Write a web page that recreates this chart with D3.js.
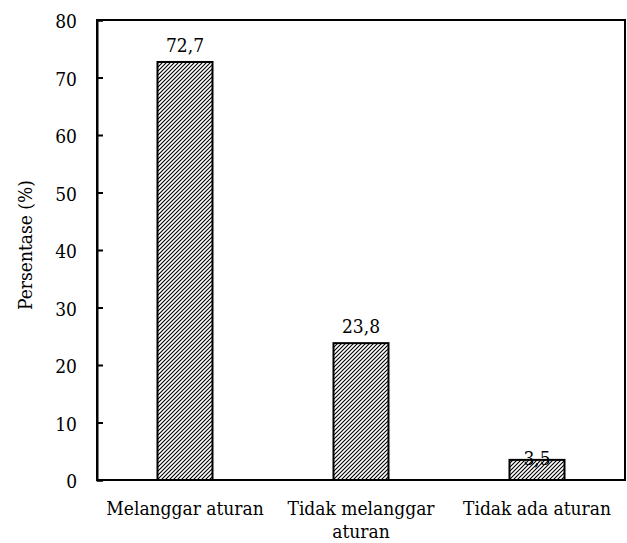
<!DOCTYPE html>
<html>
<head>
<meta charset="utf-8">
<script src="https://cdn.jsdelivr.net/npm/d3@7/dist/d3.min.js"></script>
<style>
  body { margin: 0; background: #fff; }
  text { font-family: "DejaVu Serif Condensed", "DejaVu Serif", serif; font-stretch: condensed; fill: #000; }
</style>
</head>
<body>
<div class="chart"></div>
<script>
var categories = ["Melanggar aturan", "Tidak melanggar aturan", "Tidak ada aturan"];
var values = [72.7, 23.8, 3.5];
var valueLabels = ["72,7", "23,8", "3,5"];
var yTicks = [0, 10, 20, 30, 40, 50, 60, 70, 80];

// x label lines (Excel wraps the middle one)
var catLines = {
    "Melanggar aturan": ["Melanggar aturan"],
    "Tidak melanggar aturan": ["Tidak melanggar", "aturan"],
    "Tidak ada aturan": ["Tidak ada aturan"]
};

var fontSize = "19px";

var margin = { top: 20, right: 2, bottom: 63, left: 97 },
    width = 627 - margin.left - margin.right,
    height = 543 - margin.top - margin.bottom;

var svg = d3.select('.chart')
    .append('svg')
    .attr("width", 627)
    .attr("height", 543)
    .append("g")
    .attr("transform", "translate(" + margin.left + "," + margin.top + ")");

svg.append("defs").append("pattern")
    .attr("id", "hatch")
    .attr("patternUnits", "userSpaceOnUse")
    .attr("width", 4)
    .attr("height", 4)
    .call(function (p) {
        p.append("rect").attr("width", 4).attr("height", 4).attr("fill", "#fff");
        p.append("path")
            .attr("d", "M-1,1 l2,-2 M0,4 l4,-4 M3,5 l2,-2")
            .attr("stroke", "#000")
            .attr("stroke-width", 1.1);
    });

var x = d3.scaleBand()
    .domain(categories)
    .range([0, width])
    .paddingInner(0.6875)
    .paddingOuter(0.34375);

var y = d3.scaleLinear()
    .domain([0, 80])
    .range([height, 0]);

// frame
svg.append("rect")
    .attr("x", 0).attr("y", 0)
    .attr("width", width).attr("height", height)
    .attr("fill", "none")
    .attr("stroke", "#000")
    .attr("stroke-width", 2);

var yAxis = svg.append("g")
    .attr("class", "y-axis")
    .call(d3.axisLeft(y).tickValues(yTicks).tickSize(-6).tickPadding(20).tickFormat(d3.format("d")));
yAxis.select(".domain").attr("stroke-width", 2);
yAxis.selectAll(".tick line").attr("stroke-width", 2);
yAxis.selectAll(".tick text").style("font-size", fontSize).attr("dy", "0.4em");

svg.selectAll(".bar")
    .data(values)
    .enter()
    .append("rect")
    .attr("class", "bar")
    .attr("x", function (d, i) { return x(categories[i]); })
    .attr("width", x.bandwidth())
    .attr("y", function (d) { return y(d); })
    .attr("height", function (d) { return height - y(d); })
    .attr("fill", "url(#hatch)")
    .attr("stroke", "#000")
    .attr("stroke-width", 2);

// bottom axis line drawn over bars
svg.append("line")
    .attr("x1", 0).attr("x2", width)
    .attr("y1", height).attr("y2", height)
    .attr("stroke", "#000")
    .attr("stroke-width", 2);

svg.selectAll(".val")
    .data(values)
    .enter()
    .append("text")
    .attr("class", "val")
    .attr("x", function (d, i) { return x(categories[i]) + x.bandwidth() / 2; })
    .attr("y", function (d) { return d < 5 ? y(d) + 5 : y(d) - 10; })
    .attr("text-anchor", "middle")
    .style("font-size", fontSize)
    .text(function (d, i) { return valueLabels[i]; });

var xl = svg.selectAll(".xlab")
    .data(categories)
    .enter()
    .append("text")
    .attr("class", "xlab")
    .attr("text-anchor", "middle")
    .attr("transform", function (d) {
        return "translate(" + (x(d) + x.bandwidth() / 2) + "," + (height + 35) + ")";
    })
    .style("font-size", fontSize);
xl.selectAll("tspan")
    .data(function (d) { return catLines[d]; })
    .enter()
    .append("tspan")
    .attr("x", 0)
    .attr("dy", function (d, i) { return i === 0 ? 0 : 23; })
    .text(function (d) { return d; });

svg.append("text")
    .attr("transform", "translate(-65," + (height / 2 - 5) + ") rotate(-90)")
    .attr("text-anchor", "middle")
    .style("font-size", fontSize)
    .text("Persentase (%)");
</script>
</body>
</html>
